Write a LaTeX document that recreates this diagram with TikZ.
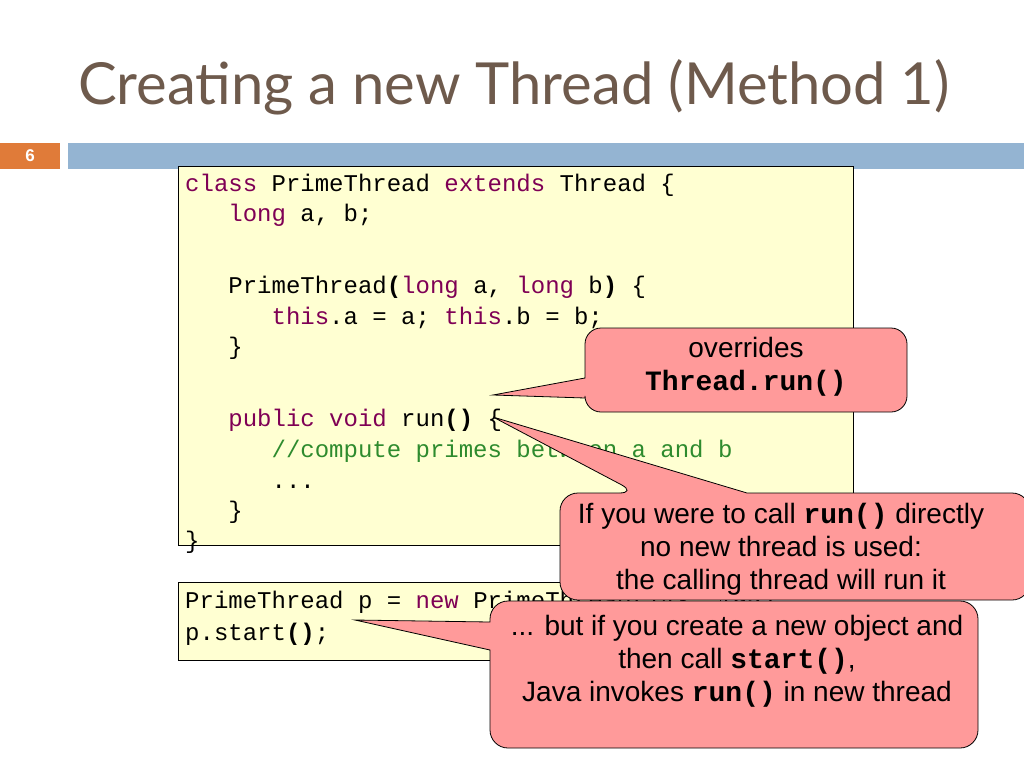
\documentclass[tikz,border=0pt]{standalone}
\usepackage{fontspec}
\setmainfont{Liberation Sans}
\setmonofont{Liberation Mono}
\newfontfamily\titlefont{Lato}
\definecolor{kw}{HTML}{7F0055}
\definecolor{cm}{HTML}{2E8B2E}
\definecolor{codebg}{HTML}{FFFFD2}
\definecolor{callbg}{HTML}{FF9A9A}
\definecolor{titlec}{HTML}{6E5A4C}
\definecolor{orangeb}{HTML}{E07B39}
\definecolor{blueb}{HTML}{94B4D2}
\newcommand{\kw}[1]{\textcolor{kw}{#1}}
\newcommand{\bp}[1]{\textbf{#1}}
\begin{document}
\begin{tikzpicture}[x=1pt,y=-1pt,
  code/.style={anchor=base west,inner sep=0pt,font=\ttfamily\fontsize{24}{24}\selectfont},
  ctext/.style={align=center,inner sep=0pt,font=\fontsize{28}{33}\selectfont},
  callout/.style={fill=callbg,draw=black,line width=0.8pt},
  panel/.style={fill=codebg,draw=black,line width=0.8pt}]
\useasboundingbox (0,0) rectangle (1024,768);
\node[anchor=base,inner sep=0pt,text=titlec,font=\titlefont\fontsize{58}{58}\selectfont] (title) at (514,104) {Creating a new Thread (Method 1)};
\fill[orangeb] (0,143) rectangle (60,169);
\node[text=white,font=\bfseries\fontsize{17}{17}\selectfont] (num) at (30,156) {6};
\fill[blueb] (68,143) rectangle (1024,169);
% code panels
\draw[panel] (178,166) rectangle (853,545);
\draw[panel] (178,582) rectangle (720,660);
\node[code] (l1) at (185,191) {\kw{class} PrimeThread \kw{extends} Thread \{};
\node[code] (l2) at (185,221) {\ \ \ \kw{long} a, b;};
\node[code] (l3) at (185,293) {\ \ \ PrimeThread\bp{(}\kw{long} a, \kw{long} b\bp{)} \{};
\node[code] (l4) at (185,324) {\ \ \ \ \ \ \kw{this}.a = a; \kw{this}.b = b;};
\node[code] (l5) at (185,354) {\ \ \ \}};
\node[code] (l6) at (185,426) {\ \ \ \kw{public} \kw{void} run\bp{()} \{};
\node[code] (l7) at (185,457) {\ \ \ \ \ \ \textcolor{cm}{//compute primes between a and b}};
\node[code] (l8) at (185,488) {\ \ \ \ \ \ ...};
\node[code] (l9) at (185,518) {\ \ \ \}};
\node[code] (l10) at (185,548) {\}};
\node[code] (m1) at (185,608) {PrimeThread p = \kw{new} PrimeThread(143, 195);};
\node[code] (m2) at (185,640) {p.start\bp{()};};
% callout 1
\coordinate (t1) at (493,395);
\draw[callout,rounded corners=16pt] (585,378) -- (585,328) -- (907,328) -- (907,412) -- (585,412) [sharp corners] -- (585,398) -- (t1) -- (585,378) -- cycle;
\node[ctext] (c1) at (746,367) {overrides\\\texttt{\bfseries Thread.run()}};
% callout 2
\coordinate (t2) at (493,417);
\draw[callout,rounded corners=18pt] (560,548) -- (560,493) -- (637,493) [sharp corners] -- (t2) -- (747,493) [rounded corners=18pt] -- (1030,493) -- (1030,600) -- (560,600) -- cycle;
\node[ctext] (c2) at (781,549) {If you were to call \texttt{\bfseries run()} directly\\no new thread is used:\\the calling thread will run it};
% callout 3
\coordinate (t3) at (355,620);
\draw[callout,rounded corners=18pt] (490,670) -- (490,748) -- (978,748) -- (978,601) -- (490,601) [sharp corners] -- (490,622) -- (t3) -- (490,650) -- cycle;
\node[ctext] (c3) at (737,661) {... but if you create a new object and\\then call \texttt{\bfseries start()},\\Java invokes \texttt{\bfseries run()} in new thread};
\end{tikzpicture}
\end{document}
